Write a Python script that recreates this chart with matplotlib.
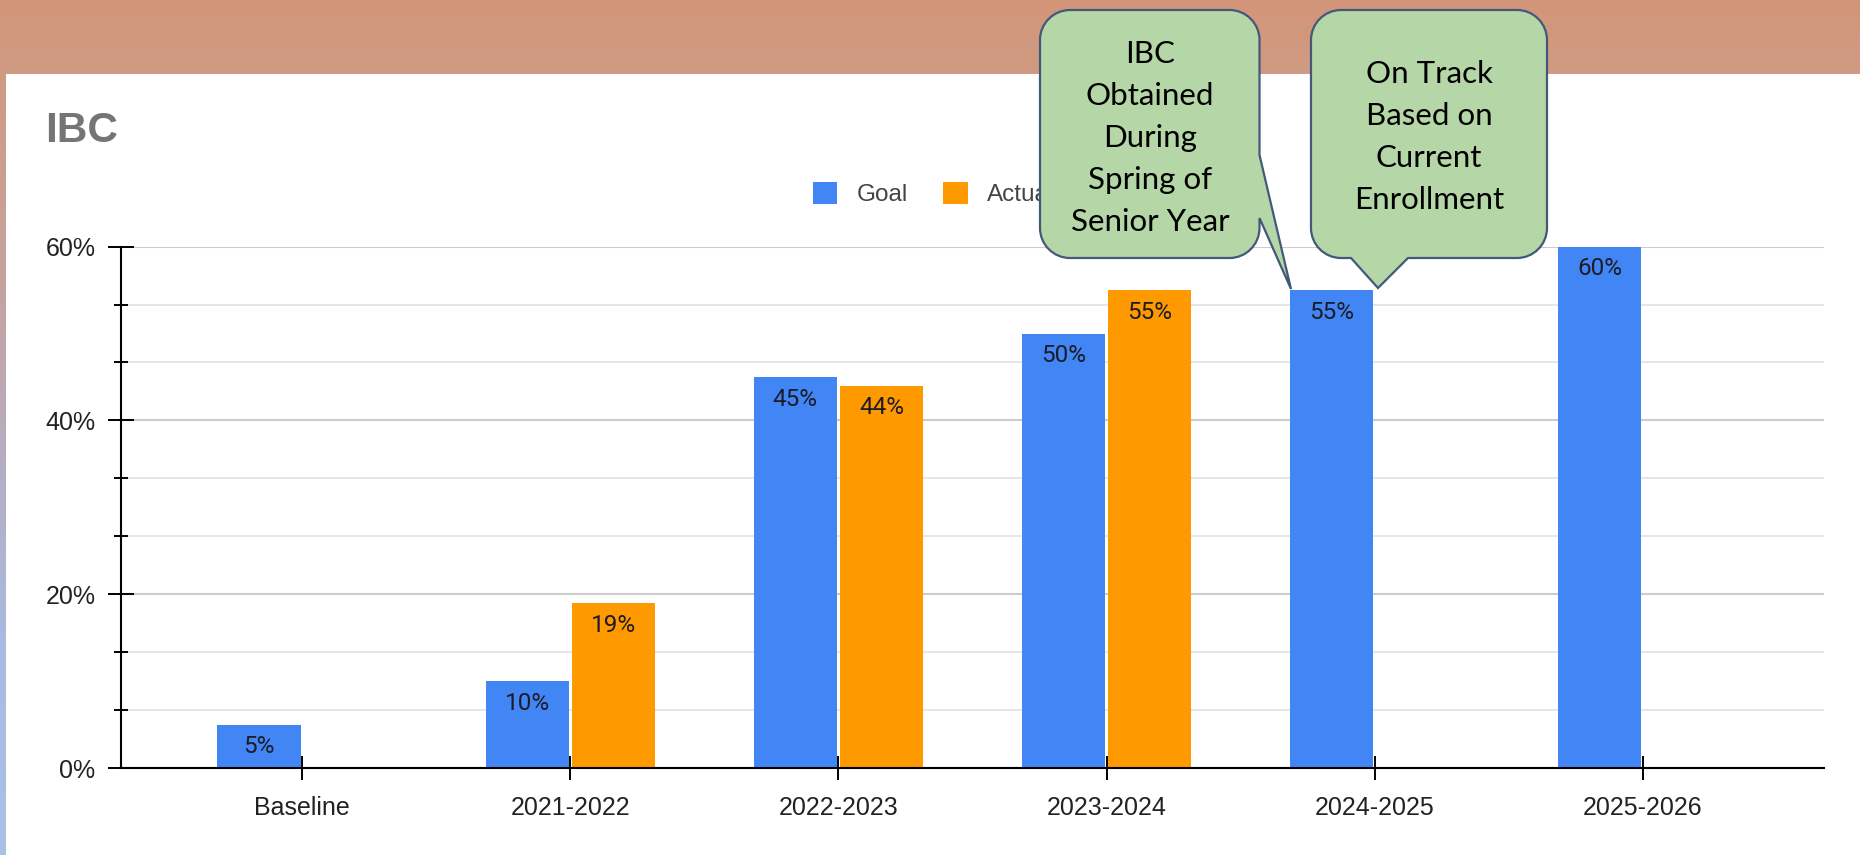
import numpy as np
import matplotlib
matplotlib.use("Agg")
import matplotlib.pyplot as plt
from matplotlib.patches import Patch, PathPatch, Rectangle
from matplotlib.path import Path
from matplotlib.transforms import Affine2D
from matplotlib.colors import LinearSegmentedColormap
from matplotlib.ticker import FixedLocator, MultipleLocator

# ---------------- data ----------------
categories = ["Baseline", "2021-2022", "2022-2023", "2023-2024", "2024-2025", "2025-2026"]
goal = [5, 10, 45, 50, 55, 60]
actual = [np.nan, 19, 44, 55, np.nan, np.nan]
series_names = ["Goal", "Actual"]
y_ticks = [0, 20, 40, 60]
y_tick_labels = ["0%", "20%", "40%", "60%"]
title = "IBC"
callout1_lines = ["IBC", "Obtained", "During", "Spring of", "Senior Year"]
callout2_lines = ["On Track", "Based on", "Current", "Enrollment"]

# ---------------- styles ----------------
W, H = 1860, 855
DPI = 100
BLUE = "#4285F4"
ORANGE = "#FF9900"
TXT = "#222222"
SANS = ["Liberation Sans", "DejaVu Sans"]

fig = plt.figure(figsize=(W / DPI, H / DPI), dpi=DPI)

# background gradient + white card
bg = fig.add_axes([0, 0, 1, 1], zorder=-10)
bg.set_axis_off()
cmap = LinearSegmentedColormap.from_list(
    "bg",
    [(0.0, "#D3957A"), (0.10, "#CF9C84"), (0.35, "#C4A3A2"),
     (0.55, "#B5AEC4"), (0.75, "#A9BAE0"), (1.0, "#AAC1E6")])
grad = np.linspace(0, 1, 256).reshape(-1, 1)
bg.imshow(grad, cmap=cmap, aspect="auto", extent=[0, 1, 0, 1], origin="upper")
bg.add_patch(Rectangle((6 / W, 0), 1, 1 - 74 / H, facecolor="white",
                       edgecolor="none", transform=bg.transAxes))
bg.set_xlim(0, 1)
bg.set_ylim(0, 1)

# main axes
ax_left, ax_right = 121, 1824
ax_bottom, ax_top = 768, 246.6
ax = fig.add_axes([ax_left / W, 1 - ax_bottom / H,
                   (ax_right - ax_left) / W, (ax_bottom - ax_top) / H])
ax.set_facecolor("none")

x = np.arange(len(categories))
bw = 0.31
gap = 0.011
gb = ax.bar(x - bw / 2 - gap / 2, goal, width=bw, color=BLUE, zorder=3)
ab = ax.bar(x + bw / 2 + gap / 2, actual, width=bw, color=ORANGE, zorder=3)

for bars, vals in ((gb, goal), (ab, actual)):
    for rect, v in zip(bars, vals):
        if np.isnan(v):
            continue
        ax.annotate(f"{v:g}%", xy=(rect.get_x() + rect.get_width() / 2, v),
                    xytext=(0, -16), textcoords="offset points",
                    ha="center", va="center", fontsize=17.5,
                    family=["Roboto", "DejaVu Sans"], color="#1c1c28", zorder=4)

ax.set_xlim(-0.675, len(categories) - 1 + 0.675)
ax.set_ylim(0, 60)
ax.set_xticks(x)
ax.set_xticklabels(categories)
ax.yaxis.set_major_locator(FixedLocator(y_ticks))
ax.set_yticklabels(y_tick_labels)
ax.yaxis.set_minor_locator(MultipleLocator(20 / 3))

for lab in ax.get_xticklabels() + ax.get_yticklabels():
    lab.set_family(SANS)
    lab.set_fontsize(18)
    lab.set_color(TXT)

ax.tick_params(axis="x", which="major", direction="inout", length=17,
               width=1.4, color="black", pad=11.5)
ax.tick_params(axis="y", which="major", direction="inout", length=18.7,
               width=1.4, color="black", pad=9)
ax.tick_params(axis="y", which="minor", direction="inout", length=9.4,
               width=1.4, color="black")

ax.grid(axis="y", which="major", color="#cccccc", linewidth=1.5, zorder=0)
ax.grid(axis="y", which="minor", color="#e4e4e4", linewidth=1.3, zorder=0)
ax.set_axisbelow(True)
for s in ("top", "right"):
    ax.spines[s].set_visible(False)
for s in ("left", "bottom"):
    ax.spines[s].set_color("black")
    ax.spines[s].set_linewidth(1.5)
    ax.spines[s].set_zorder(5)

# title
fig.text(45 / W, 1 - 131.5 / H, title, fontsize=30.5, fontweight="bold",
         color="#757575", family=SANS, ha="left", va="center")

# legend
handles = [Patch(facecolor=BLUE, edgecolor="none"),
           Patch(facecolor=ORANGE, edgecolor="none")]
leg = fig.legend(handles, series_names, loc="center left",
                 bbox_to_anchor=(813 / W, 1 - 194 / H), ncol=2, frameon=False,
                 borderpad=0, borderaxespad=0, handlelength=1.0,
                 handleheight=1.0, handletextpad=0.8, columnspacing=1.45,
                 prop={"family": SANS, "size": 17.5})
for t in leg.get_texts():
    t.set_color("#444444")

# callouts (pixel coordinates, y from top)
px = Affine2D().scale(1 / W, -1 / H).translate(0, 1) + fig.transFigure
K = 0.5523


def callout_path(x0, y0, x1, y1, r, right_tail=None, bottom_tail=None):
    v, c = [], []

    def mv(p):
        v.append(p); c.append(Path.MOVETO)

    def ln(p):
        v.append(p); c.append(Path.LINETO)

    def cv(p1, p2, p3):
        v.extend([p1, p2, p3]); c.extend([Path.CURVE4] * 3)

    mv((x0 + r, y0))
    ln((x1 - r, y0))
    cv((x1 - r + K * r, y0), (x1, y0 + r - K * r), (x1, y0 + r))
    if right_tail:
        a, b, tip = right_tail
        ln((x1, a)); ln(tip); ln((x1, b))
    ln((x1, y1 - r))
    cv((x1, y1 - r + K * r), (x1 - r + K * r, y1), (x1 - r, y1))
    if bottom_tail:
        a, b, tip = bottom_tail
        ln((b, y1)); ln(tip); ln((a, y1))
    ln((x0 + r, y1))
    cv((x0 + r - K * r, y1), (x0, y1 - r + K * r), (x0, y1 - r))
    ln((x0, y0 + r))
    cv((x0, y0 + r - K * r), (x0 + r - K * r, y0), (x0 + r, y0))
    v.append((x0 + r, y0)); c.append(Path.CLOSEPOLY)
    return Path(v, c)


FILL = "#B5D6A7"
EDGE = "#44597A"
p1 = callout_path(1040, 10, 1259.5, 258, 30,
                  right_tail=(155, 218, (1291, 289)))
p2 = callout_path(1311, 10, 1547, 258, 30,
                  bottom_tail=(1351, 1408, (1378, 288)))
for p in (p1, p2):
    fig.add_artist(PathPatch(p, facecolor=FILL, edgecolor=EDGE, linewidth=1.6,
                             transform=px, zorder=10))

CFONT = ["Lato", "DejaVu Sans"]
for line, yb in zip(callout1_lines, [63, 105, 147, 189, 231]):
    fig.text(1150 / W, 1 - yb / H, line, ha="center", va="baseline",
             fontsize=22.5, family=CFONT, color="black", zorder=11)
for line, yb in zip(callout2_lines, [83, 125, 167, 209]):
    fig.text(1429 / W, 1 - yb / H, line, ha="center", va="baseline",
             fontsize=22.5, family=CFONT, color="black", zorder=11)

fig.savefig("out.png", dpi=DPI)
